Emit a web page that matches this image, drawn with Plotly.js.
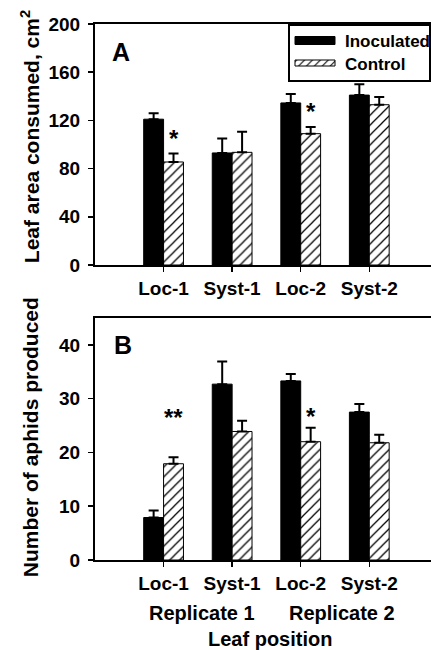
<!DOCTYPE html>
<html><head><meta charset="utf-8">
<script src="https://cdn.plot.ly/plotly-3.0.1.min.js"></script>
<style>html,body{margin:0;padding:0;background:#fff}</style>
</head><body><div id="chart" style="width:431px;height:650px"></div>
<script>
// ---- data ----
const categories = ['Loc-1', 'Syst-1', 'Loc-2', 'Syst-2'];
const seriesNames = ['Inoculated', 'Control'];
const areaInoculated = [121, 93, 134.5, 141];
const areaInoculatedErr = [5, 12, 7.5, 9];
const areaControl = [85.5, 93.5, 109, 133];
const areaControlErr = [7, 17, 5.5, 6.5];
const aphidsInoculated = [7.9, 32.7, 33.3, 27.5];
const aphidsInoculatedErr = [1.3, 4.2, 1.3, 1.5];
const aphidsControl = [17.9, 23.9, 22.0, 21.8];
const aphidsControlErr = [1.2, 2.0, 2.6, 1.5];
const areaTicks = [0, 40, 80, 120, 160, 200];
const aphidTicks = [0, 10, 20, 30, 40];
const replicateLabels = ['Replicate 1', 'Replicate 2'];
const areaSigCats = ['Loc-1', 'Loc-2'];
const areaSigText = ['*', '*'];
const areaSigY = [108, 131];
const aphidSigCats = ['Loc-1', 'Loc-2'];
const aphidSigText = ['**', '*'];
const aphidSigY = [27.2, 27.5];

const FONT = 'Liberation Sans, Arial, Helvetica, sans-serif';
const zeros = a => a.map(() => 0);
const hatch = {shape: '/', fgcolor: 'black', bgcolor: 'white', size: 7, solidity: 0.18};

function barTrace(name, y, err, xa, ya, control, showleg) {
  return {
    type: 'bar', name: name, x: categories, y: y, xaxis: xa, yaxis: ya,
    legendgroup: name, showlegend: showleg,
    marker: control ? {color: 'white', pattern: hatch, line: {color: 'black', width: 1}}
                    : {color: 'black', line: {color: 'black', width: 1}},
    error_y: {type: 'data', symmetric: false, array: err, arrayminus: zeros(err),
              color: 'black', thickness: 2, width: 5},
    hoverinfo: 'skip'
  };
}

const data = [
  barTrace(seriesNames[0], areaInoculated, areaInoculatedErr, 'x', 'y', false, true),
  barTrace(seriesNames[1], areaControl, areaControlErr, 'x', 'y', true, true),
  barTrace(seriesNames[0], aphidsInoculated, aphidsInoculatedErr, 'x2', 'y2', false, false),
  barTrace(seriesNames[1], aphidsControl, aphidsControlErr, 'x2', 'y2', true, false)
];

const xCommon = {
  type: 'category', range: [-1, 3.9], showline: true, linewidth: 2, linecolor: 'black',
  mirror: true, ticks: 'outside', ticklen: 5, tickwidth: 1.5, tickcolor: 'black',
  tickfont: {size: 19}, ticklabelstandoff: 0, showgrid: false, zeroline: false, fixedrange: true
};
const yCommon = {
  showline: true, linewidth: 2, linecolor: 'black', ticks: 'outside', ticklen: 5,
  tickwidth: 1.5, tickcolor: 'black', tickfont: {size: 19}, ticklabelstandoff: 4,
  showgrid: false, zeroline: false, fixedrange: true
};

const annotations = [];
const ctrlOffset = 0.145;
areaSigCats.forEach((c, i) => annotations.push({
  xref: 'x', yref: 'y', x: categories.indexOf(c) + ctrlOffset, y: areaSigY[i],
  text: areaSigText[i], showarrow: false, font: {size: 24}, yanchor: 'middle', yshift: -4
}));
aphidSigCats.forEach((c, i) => annotations.push({
  xref: 'x2', yref: 'y2', x: categories.indexOf(c) + ctrlOffset, y: aphidSigY[i],
  text: aphidSigText[i], showarrow: false, font: {size: 24}, yanchor: 'middle', yshift: -4
}));
annotations.push(
  {xref: 'paper', yref: 'paper', x: 0.077, y: (560 - 52) / 536, text: 'A', showarrow: false,
   font: {size: 25}, xanchor: 'center', yanchor: 'middle'},
  {xref: 'paper', yref: 'paper', x: 0.083, y: (560 - 345) / 536, text: 'B', showarrow: false,
   font: {size: 25}, xanchor: 'center', yanchor: 'middle'},
  {xref: 'paper', yref: 'paper', x: -0.193, y: (560 - 137) / 536, text: 'Leaf area consumed, cm<sup>2</sup>',
   textangle: -90, showarrow: false, font: {size: 21}, xanchor: 'center', yanchor: 'middle'},
  {xref: 'paper', yref: 'paper', x: -0.193, y: (560 - 437) / 536, text: 'Number of aphids produced',
   textangle: -90, showarrow: false, font: {size: 21}, xanchor: 'center', yanchor: 'middle'},
  {xref: 'x2', yref: 'paper', x: 0.5, xshift: 4, y: (560 - 613) / 536, text: replicateLabels[0],
   showarrow: false, font: {size: 20}, yanchor: 'middle'},
  {xref: 'x2', yref: 'paper', x: 2.5, xshift: 7, y: (560 - 613) / 536, text: replicateLabels[1],
   showarrow: false, font: {size: 20}, yanchor: 'middle'},
  {xref: 'paper', yref: 'paper', x: (270 - 95) / 336, y: (560 - 639) / 536, text: 'Leaf position',
   showarrow: false, font: {size: 20}, yanchor: 'middle'}
);

const layout = {
  width: 431, height: 650,
  margin: {l: 95, r: 0, t: 24, b: 90, pad: 0},
  paper_bgcolor: 'white', plot_bgcolor: 'white',
  font: {family: FONT, weight: 700, color: 'black'},
  barmode: 'group', bargap: 0.42, bargroupgap: 0,
  showlegend: true,
  legend: {x: (288 - 95) / 336, y: 1, xanchor: 'left', yanchor: 'top', bgcolor: 'white',
           bordercolor: 'black', borderwidth: 1.5, font: {size: 17}, tracegroupgap: 0,
           traceorder: 'normal'},
  xaxis: Object.assign({}, xCommon, {domain: [0, 1], anchor: 'y'}),
  yaxis: Object.assign({}, yCommon, {domain: [(560 - 265) / 536, 1], anchor: 'x', range: [0, 200], tickvals: areaTicks}),
  xaxis2: Object.assign({}, xCommon, {domain: [0, 1], anchor: 'y2'}),
  yaxis2: Object.assign({}, yCommon, {domain: [0, (560 - 318) / 536], anchor: 'x2', range: [0, 45], tickvals: aphidTicks}),
  annotations: annotations
};

Plotly.newPlot('chart', data, layout, {staticPlot: true}).then(gd => {
  // Re-arrange the key to the look of the original: long flat swatches, text further right.
  const leg = gd.querySelector('.legend');
  if (!leg) return;
  const sb = leg.querySelector('.scrollbox');
  if (sb) sb.removeAttribute('clip-path');
  const bg = leg.querySelector('rect.bg');
  const bgM = bg.getScreenCTM();
  const bgLeft = bgM.e + parseFloat(bg.getAttribute('x') || 0);
  const bgTop = bgM.f + parseFloat(bg.getAttribute('y') || 0);
  const rowY = [40.5, 63];
  leg.querySelectorAll('g.traces').forEach((g, i) => {
    const tr = g.getAttribute('transform') || '';
    const m = tr.match(/translate\(\s*([-\d.e]+)[ ,]+([-\d.e]+)\s*\)/);
    const tx = m ? parseFloat(m[1]) : 0, ty = m ? parseFloat(m[2]) : 0;
    const cur = g.getScreenCTM().f;
    g.setAttribute('transform', 'translate(' + tx + ',' + (ty + (rowY[i] - cur)) + ')');
    const txt = g.querySelector('text.legendtext');
    if (txt) {
      const e = txt.getScreenCTM().e;
      txt.setAttribute('x', 345 - e);
    }
    g.querySelectorAll('.legendpoints path').forEach(p => {
      const pm = p.getScreenCTM();
      const x0 = 295 - pm.e, x1 = 335 - pm.e;
      const h = i === 0 ? 4 : 3;
      p.setAttribute('d', 'M' + x0 + ',' + (-h) + 'H' + x1 + 'V' + h + 'H' + x0 + 'Z');
    });
  });
  bg.setAttribute('width', 430 - bgLeft);
  bg.setAttribute('height', 81 - bgTop);
});
</script></body></html>
